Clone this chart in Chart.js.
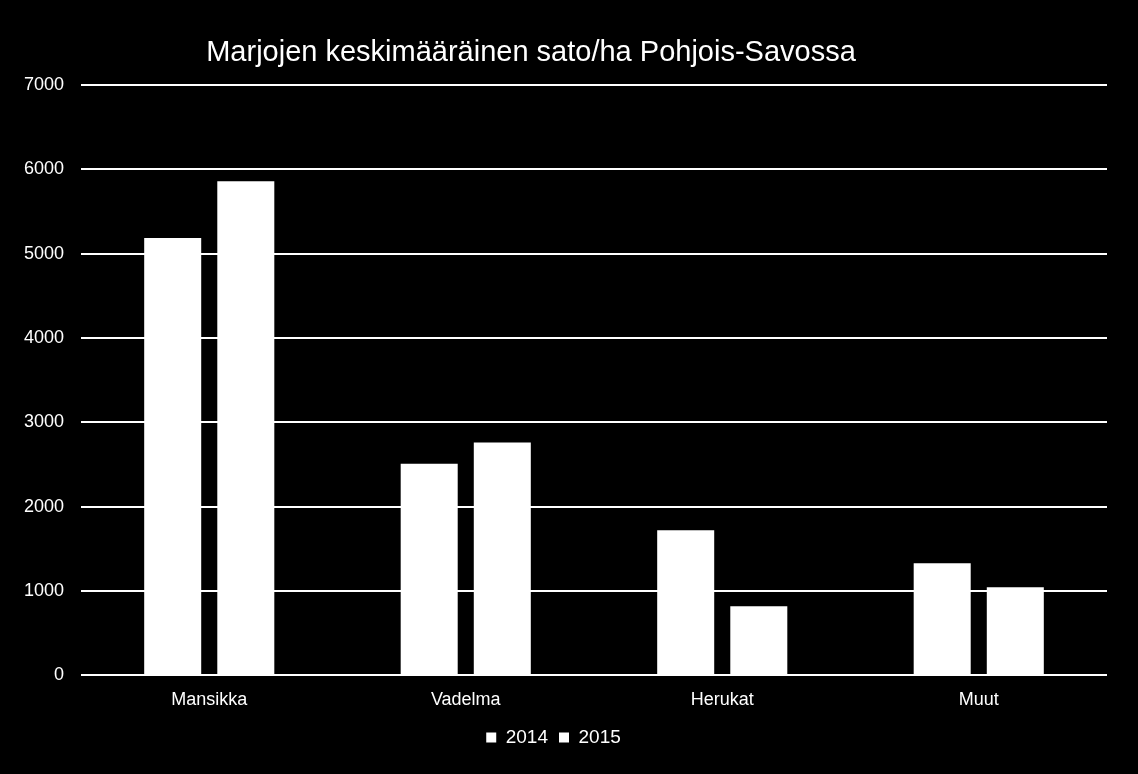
<!DOCTYPE html>
<html>
<head>
<meta charset="UTF-8">
<title>Marjojen keskimääräinen sato/ha</title>
<script src="https://cdn.jsdelivr.net/npm/chart.js"></script>
<style>
  html, body { margin: 0; padding: 0; background: #000; }
  #wrap { width: 1138px; height: 774px; }
</style>
</head>
<body>
<div id="wrap"><canvas id="chart"></canvas></div>
<script>
// data
const categories = ['Mansikka', 'Vadelma', 'Herukat', 'Muut'];
const values2014 = [5185, 2510, 1720, 1330];
const values2015 = [5860, 2760, 820, 1045];
const seriesNames = ['2014', '2015'];
const yTicks = [0, 1000, 2000, 3000, 4000, 5000, 6000, 7000];
const titleText = 'Marjojen keskimääräinen sato/ha Pohjois-Savossa';

const font = 'Arial, "Liberation Sans", sans-serif';

// title drawn slightly left of centre, like the original
const titlePlugin = {
  id: 'offTitle',
  afterDraw(chart) {
    const ctx = chart.ctx;
    ctx.save();
    ctx.fillStyle = '#fff';
    ctx.font = '29px ' + font;
    ctx.textAlign = 'center';
    ctx.textBaseline = 'middle';
    ctx.fillText(titleText, 531, 53);
    ctx.restore();
  }
};

new Chart(document.getElementById('chart'), {
  type: 'bar',
  data: {
    labels: categories,
    datasets: [
      { label: seriesNames[0], data: values2014, backgroundColor: '#fff' },
      { label: seriesNames[1], data: values2015, backgroundColor: '#fff' }
    ]
  },
  options: {
    responsive: true,
    maintainAspectRatio: false,
    animation: false,
    categoryPercentage: 0.57,
    barPercentage: 0.78,
    layout: { padding: { top: 85, right: 31, left: 0, bottom: 17 } },
    plugins: {
      title: { display: false },
      tooltip: { enabled: false },
      legend: {
        position: 'bottom',
        labels: {
          color: '#fff',
          font: { family: font, size: 19 },
          boxWidth: 10,
          boxHeight: 10,
          padding: 11
        }
      }
    },
    scales: {
      x: {
        grid: { display: false },
        border: { display: false },
        ticks: { color: '#fff', font: { family: font, size: 18 }, padding: 6 }
      },
      y: {
        min: 0,
        max: 7000,
        afterBuildTicks(axis) { axis.ticks = yTicks.map(v => ({ value: v })); },
        afterFit(axis) { axis.width = 81; },
        grid: { color: '#fff', lineWidth: 2, drawTicks: false },
        border: { display: false },
        ticks: {
          color: '#fff',
          font: { family: font, size: 18 },
          padding: 17,
          callback: v => String(v)
        }
      }
    }
  },
  plugins: [titlePlugin]
});
</script>
</body>
</html>
